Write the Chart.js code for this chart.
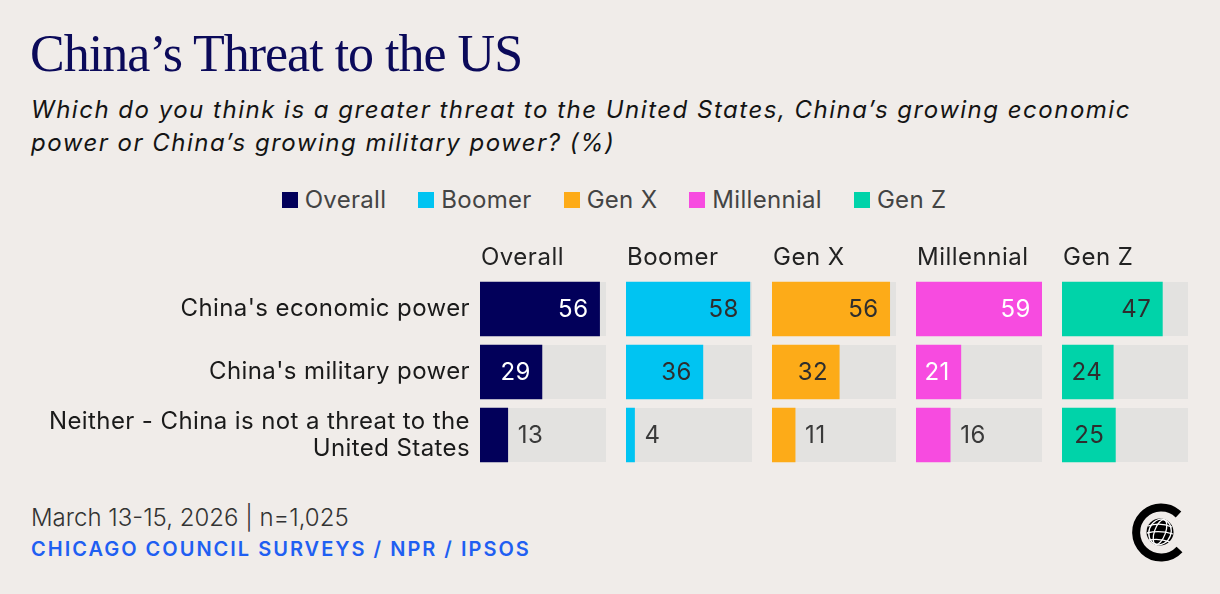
<!DOCTYPE html>
<html>
<head>
<meta charset="utf-8">
<script src="https://cdn.jsdelivr.net/npm/chart.js@4.4.1/dist/chart.umd.min.js"></script>
<style>
  html, body { margin: 0; padding: 0; background: #f0ece9; }
  #page { position: relative; width: 1220px; height: 594px; overflow: hidden; font-family: Inter, "Noto Sans", sans-serif; }
  #title { position: absolute; left: 30px; top: 28px; font-family: "Liberation Serif", serif; font-size: 52px; line-height: 52px; letter-spacing: -1px; color: #0b0a5a; white-space: nowrap; }
  #subtitle { position: absolute; left: 31px; top: 93px; font-size: 24px; line-height: 33px; letter-spacing: 1.5px; font-style: italic; color: #141414; white-space: nowrap; }
  #legend { position: absolute; left: 4px; width: 1220px; top: 185px; display: flex; justify-content: center; font-size: 24px; letter-spacing: 0.3px; color: #444; }
  #legend .item { display: flex; align-items: center; margin: 0 16px; }
  #legend .box { width: 16px; height: 16px; margin-right: 7px; }
  .panel { position: absolute; top: 240px; height: 230px; }
  #note { position: absolute; left: 31px; top: 503px; font-size: 24px; font-weight: 300; color: #333; white-space: nowrap; }
  #source { position: absolute; left: 31px; top: 537px; font-size: 20px; font-weight: 600; color: #1f5ff2; white-space: nowrap; letter-spacing: 2px; }
  #logo { position: absolute; left: 1128px; top: 500px; }
</style>
</head>
<body>
<div id="page">
  <div id="title">China’s Threat to the US</div>
  <div id="subtitle">Which do you think is a greater threat to the United States, China’s growing economic<br>power or China’s growing military power? (%)</div>
  <div id="legend"></div>
  <div class="panel" style="left:0;width:606px"><canvas id="c0"></canvas></div>
  <div class="panel" style="left:626px;width:126px"><canvas id="c1"></canvas></div>
  <div class="panel" style="left:772px;width:124px"><canvas id="c2"></canvas></div>
  <div class="panel" style="left:916px;width:126px"><canvas id="c3"></canvas></div>
  <div class="panel" style="left:1062px;width:126px"><canvas id="c4"></canvas></div>
  <div id="note">March 13-15, 2026 | n=1,025</div>
  <div id="source">CHICAGO COUNCIL SURVEYS / NPR / IPSOS</div>
  <svg id="logo" width="64" height="64" viewBox="0 0 64 64">
    <path d="M 50.5 14.5 A 25 25 0 1 0 51.5 49.5" fill="none" stroke="#000" stroke-width="8"/>
    <circle cx="32" cy="32" r="13.5" fill="#000"/>
    <g fill="none" stroke="#fff" stroke-width="1.3">
      <ellipse cx="32" cy="32" rx="5.5" ry="13" transform="rotate(20 32 32)"/>
      <ellipse cx="32" cy="32" rx="11" ry="13" transform="rotate(20 32 32)"/>
      <path d="M 20 26 Q 32 22 44 27"/>
      <path d="M 19 33 Q 32 30 45 34"/>
      <path d="M 21 40 Q 32 38 42 42"/>
    </g>
  </svg>
</div>
<script>
const categories = [
  "China's economic power",
  "China's military power",
  ["Neither - China is not a threat to the", "United States"]
];
const groups = ['Overall', 'Boomer', 'Gen X', 'Millennial', 'Gen Z'];
const overall    = [56, 29, 13];
const boomer     = [58, 36, 4];
const genX       = [56, 32, 11];
const millennial = [59, 21, 16];
const genZ       = [47, 24, 25];
const series = [overall, boomer, genX, millennial, genZ];

const groupColors = ['#02005a', '#00c4f2', '#fdab18', '#f74be0', '#00d3a9'];
const insideText  = ['#ffffff', '#2e2e2e', '#2e2e2e', '#ffffff', '#2e2e2e'];
const trackColor = '#e3e2e0';
const scaleMax = 59;   // longest bar fills its track
const insideMin = 20;  // smaller values get the label outside the bar

const FONT = 'Inter, "Noto Sans", sans-serif';

// legend
const legend = document.getElementById('legend');
groups.forEach((g, i) => {
  const item = document.createElement('div');
  item.className = 'item';
  item.innerHTML = '<span class="box" style="background:' + groupColors[i] + '"></span>' + g;
  legend.appendChild(item);
});

// a bit of tracking so Inter spreads like the original face
const spacing = {
  id: 'spacing',
  beforeDraw(chart) { chart.ctx.letterSpacing = '0.4px'; }
};

// grey track behind each bar
const tracks = {
  id: 'tracks',
  beforeDatasetsDraw(chart) {
    const { ctx, chartArea } = chart;
    ctx.save();
    ctx.fillStyle = trackColor;
    chart.getDatasetMeta(0).data.forEach(bar => {
      const p = bar.getProps(['y', 'height'], true);
      ctx.fillRect(chartArea.left, p.y - p.height / 2, chartArea.right - chartArea.left, p.height);
    });
    ctx.restore();
  }
};

// panel header + values
const labels = {
  id: 'labels',
  afterDatasetsDraw(chart, args, opts) {
    const { ctx, chartArea } = chart;
    ctx.save();
    ctx.font = '24px ' + FONT;
    ctx.letterSpacing = '0.5px';
    ctx.textBaseline = 'middle';
    ctx.textAlign = 'left';
    ctx.fillStyle = '#222';
    ctx.fillText(opts.header, chartArea.left + 1, chartArea.top - 19.5);

    const data = chart.data.datasets[0].data;
    chart.getDatasetMeta(0).data.forEach((bar, i) => {
      const v = data[i];
      if (v >= insideMin) {
        ctx.textAlign = 'right';
        ctx.fillStyle = opts.inside;
        ctx.fillText(v, bar.x - 11, bar.y + 1);
      } else {
        ctx.textAlign = 'left';
        ctx.fillStyle = '#3a3a3a';
        ctx.fillText(v, bar.x + 10, bar.y + 1);
      }
    });
    ctx.restore();
  }
};

series.forEach((values, k) => {
  const first = k === 0;
  new Chart(document.getElementById('c' + k), {
    type: 'bar',
    data: {
      labels: categories,
      datasets: [{
        label: groups[k],
        data: values,
        backgroundColor: groupColors[k],
        barThickness: 54,
        borderWidth: 0
      }]
    },
    options: {
      indexAxis: 'y',
      responsive: true,
      maintainAspectRatio: false,
      animation: false,
      events: [],
      layout: { padding: { top: 37.5, bottom: 3.5, left: 0, right: 0 } },
      scales: {
        x: { display: false, min: 0, max: scaleMax },
        y: {
          display: first,
          grid: { display: false, drawTicks: false },
          border: { display: false },
          ticks: {
            padding: 10,
            color: '#1a1a1a',
            font: { family: FONT, size: 24, lineHeight: 1.125 }
          },
          afterFit(scale) {
            if (first) scale.width = 480;
            scale.paddingTop = 0;
            scale.paddingBottom = 0;
          }
        }
      },
      plugins: {
        legend: { display: false },
        tooltip: { enabled: false },
        labels: { header: groups[k], inside: insideText[k] }
      }
    },
    plugins: [spacing, tracks, labels]
  });
});
</script>
</body>
</html>
